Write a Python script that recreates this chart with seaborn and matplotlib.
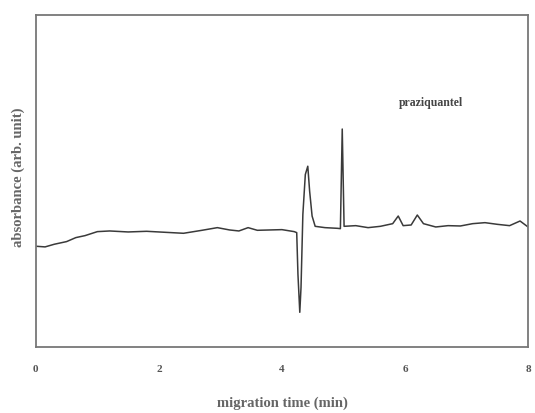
import pandas as pd
import matplotlib
matplotlib.use("Agg")
import matplotlib.pyplot as plt
import seaborn as sns

# --- Electropherogram trace ---
time_min = [0.0, 0.15, 0.3, 0.5, 0.65, 0.8, 1.0, 1.2, 1.5, 1.8,
            2.1, 2.4, 2.7, 2.95, 3.15, 3.3, 3.45, 3.6, 3.8, 4.0,
            4.2, 4.24, 4.26, 4.29, 4.31, 4.34, 4.38, 4.42, 4.45, 4.49,
            4.54, 4.7, 4.9, 4.95, 4.98, 5.01, 5.2, 5.4, 5.6, 5.8,
            5.89, 5.97, 6.1, 6.2, 6.3, 6.5, 6.7, 6.9, 7.1, 7.3,
            7.5, 7.7, 7.87, 8.0]
absorbance = [0.304, 0.302, 0.310, 0.318, 0.330, 0.336, 0.348, 0.350, 0.347, 0.349,
              0.346, 0.343, 0.352, 0.360, 0.353, 0.350, 0.360, 0.352, 0.353, 0.354,
              0.348, 0.345, 0.220, 0.105, 0.180, 0.400, 0.520, 0.545, 0.470, 0.395,
              0.364, 0.360, 0.358, 0.357, 0.657, 0.364, 0.366, 0.360, 0.364, 0.372,
              0.395, 0.366, 0.368, 0.398, 0.372, 0.362, 0.366, 0.365, 0.372, 0.375,
              0.370, 0.366, 0.380, 0.362]

x_ticks = [0, 2, 4, 6, 8]
peak_label = "praziquantel"

df = pd.DataFrame({"time": time_min, "abs": absorbance})

sns.set_style("white")
plt.rcParams['font.family'] = ['Liberation Serif', 'DejaVu Serif']

fig = plt.figure(figsize=(5.35, 4.14), dpi=100)
ax = fig.add_axes([0.067, 0.159, 0.92, 0.802])

sns.lineplot(data=df, x="time", y="abs", ax=ax, color="#3a3a3a", linewidth=1.1)

ax.set_xlim(0, 8)
ax.set_ylim(0, 1)
ax.set_xticks(x_ticks)
ax.set_xticklabels([str(t) for t in x_ticks], fontsize=8, fontweight="bold", color="#555555")
ax.set_yticks([])
ax.tick_params(axis="x", direction="in", length=4, width=1, color="#777777", pad=12)

for sp in ax.spines.values():
    sp.set_color("#777777")
    sp.set_linewidth(1.3)

ax.text(6.42, 0.738, peak_label, fontsize=8.5, fontweight="bold",
        ha="center", va="center", color="#444444")

ax.set_xlabel("migration time (min)", fontsize=10.5, fontweight="bold", color="#666666", labelpad=16.5)
ax.set_ylabel("absorbance (arb. unit)", fontsize=10.5, fontweight="bold", color="#666666")
ax.yaxis.set_label_coords(-0.022, 0.515)

fig.savefig("out.png", dpi=100)
